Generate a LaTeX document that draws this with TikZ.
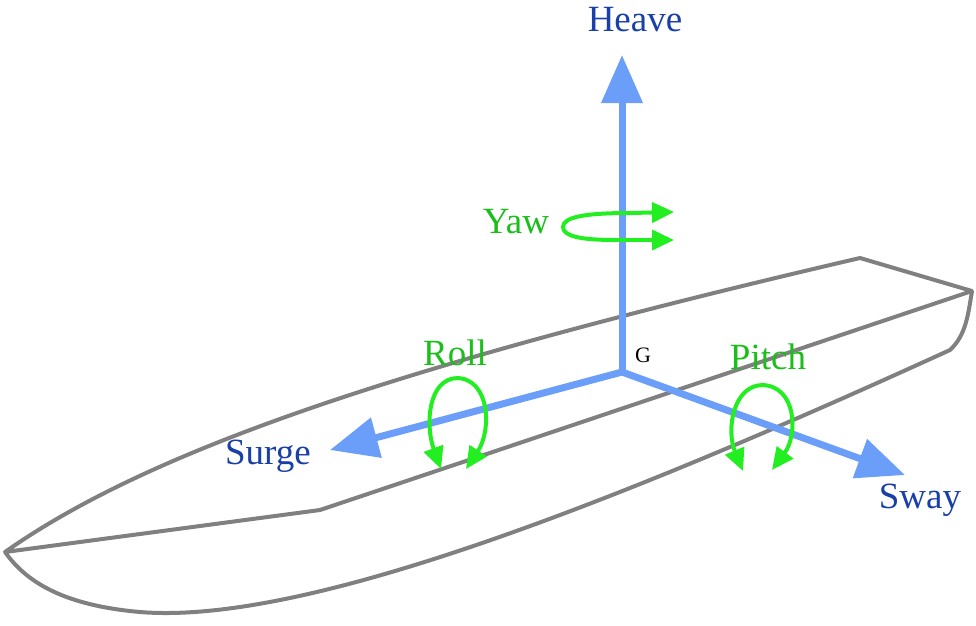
\documentclass[tikz,border=0pt]{standalone}
\usepackage{fontspec}
\setmainfont{Liberation Serif}
\usetikzlibrary{arrows.meta}
\definecolor{ax}{HTML}{6A9EF8}
\definecolor{lab}{HTML}{1A3FA8}
\definecolor{rot}{HTML}{22EE22}
\definecolor{hull}{HTML}{808080}
\begin{document}
\begin{tikzpicture}[x=1pt,y=-1pt,
  hullline/.style={hull,line width=4pt,line join=round},
  axis/.style={ax,line width=7pt,-{Triangle[length=48pt,width=40pt]}},
  rotarr/.style={rot,line width=4pt,-{Triangle[length=22pt,width=20pt]}},
  axlab/.style={lab,font=\fontsize{37}{37}\selectfont},
  rotlab/.style={rot!80!black,font=\fontsize{37}{37}\selectfont}]
\useasboundingbox (0,0) rectangle (976,625);
% hull
\coordinate (bow) at (5,552);
\coordinate (sb) at (860,258);
\coordinate (st) at (972,291);
\draw[hullline] (bow) .. controls (150,450) and (400,365) .. (sb) -- (st)
  .. controls (968,315) and (966,335) .. (950,350)
  .. controls (600,510) and (300,625) .. (140,612)
  .. controls (60,605) and (25,580) .. (bow) -- (320,510) -- (st);
% axes
\coordinate (G) at (622,372);
\coordinate (h) at (622,55);
\coordinate (s) at (330,450);
\coordinate (w) at (905,475);
\draw[axis] (G) -- (h);
\draw[axis] (G) -- (s);
\draw[axis] (G) -- (w);
\node[font=\fontsize{22}{22}\selectfont] (gl) at (643,355) {G};
\node[axlab] (hl) at (635,20) {Heave};
\node[axlab] (sl) at (268,456) {Surge};
\node[axlab] (wl) at (920,500) {Sway};
% yaw
\draw[rotarr] (615,240) .. controls (580,240) and (563,236) .. (563,227)
  .. controls (563,217) and (585,213) .. (630,213) -- (674,212);
\draw[rotarr] (612,240) -- (674,240);
\node[rotlab] (yl) at (516,222) {Yaw};
% roll
\draw[rotarr] (458,378) .. controls (428,378) and (425,425) .. (441,469);
\draw[rotarr] (456,378) .. controls (490,378) and (492,430) .. (466,469);
\node[rotlab] (rl) at (455,353) {Roll};
% pitch
\draw[rotarr] (763,385) .. controls (733,385) and (726,430) .. (743,471);
\draw[rotarr] (761,385) .. controls (797,385) and (798,435) .. (772,470);
\node[rotlab] (pl) at (768,357) {Pitch};
\end{tikzpicture}
\end{document}
